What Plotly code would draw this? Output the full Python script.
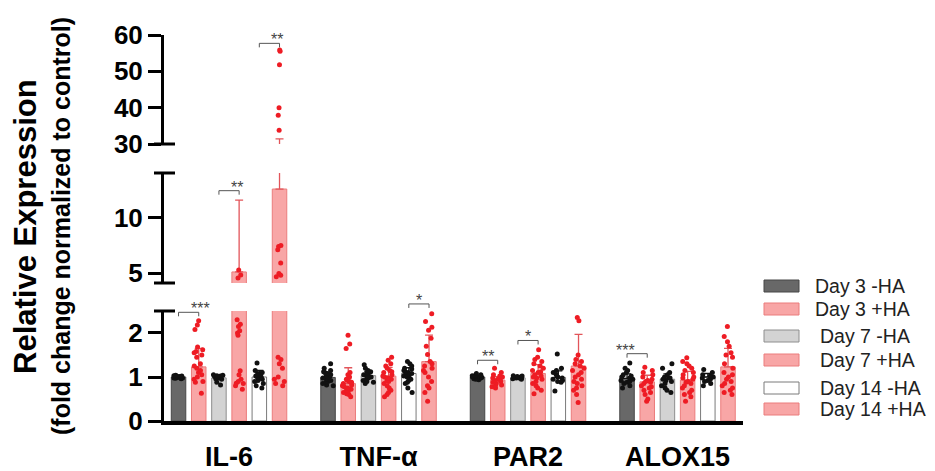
import plotly.graph_objects as go

genes = ["IL-6", "TNF-α", "PAR2", "ALOX15"]
groups = ["Day 3 -HA", "Day 3 +HA", "Day 7 -HA", "Day 7 +HA", "Day 14 -HA", "Day 14 +HA"]

# bar heights (mean) per group, in gene order IL-6, TNF-a, PAR2, ALOX15
mean_d3_minus = [1.00, 0.99, 1.00, 0.97]
mean_d3_plus = [1.23, 0.85, 0.93, 0.89]
mean_d7_minus = [0.98, 1.03, 0.98, 0.95]
mean_d7_plus = [5.10, 1.02, 1.08, 0.93]
mean_d14_minus = [1.00, 1.08, 0.99, 1.00]
mean_d14_plus = [12.6, 1.35, 1.25, 1.23]

# error bars (SD, drawn upward only)
sd_d3_minus = [0.03, 0.10, 0.04, 0.10]
sd_d3_plus = [0.42, 0.36, 0.08, 0.15]
sd_d7_minus = [0.05, 0.10, 0.03, 0.12]
sd_d7_plus = [6.50, 0.20, 0.20, 0.20]
sd_d14_minus = [0.15, 0.13, 0.15, 0.08]
sd_d14_plus = [18.8, 0.60, 0.72, 0.42]

# individual points per group, one list per gene
pts_d3_minus = [
    [1.02, 0.98, 1.00, 1.01, 0.99, 1.03, 0.97, 1.00, 1.02, 0.98, 1.01, 0.99, 1.00, 0.96, 1.04],
    [1.30, 1.20, 1.15, 1.10, 1.08, 1.05, 1.02, 1.00, 0.98, 0.95, 0.92, 0.90, 0.88, 0.85, 0.82, 0.80, 1.12, 0.96],
    [1.08, 1.05, 1.03, 1.02, 1.00, 0.99, 0.98, 0.97, 0.95, 0.94, 1.01, 1.00, 0.96, 1.04],
    [1.32, 1.20, 1.15, 1.10, 1.05, 1.02, 1.00, 0.98, 0.95, 0.92, 0.90, 0.88, 0.85, 0.80, 0.75],
]
pts_d3_plus = [
    [2.28, 2.18, 2.08, 1.68, 1.62, 1.58, 1.55, 1.50, 1.45, 1.30, 1.25, 1.20, 1.15, 1.10, 1.05, 1.00, 0.95, 0.90, 0.88, 0.63],
    [1.95, 1.75, 1.65, 1.10, 1.05, 1.00, 0.95, 0.92, 0.90, 0.88, 0.85, 0.82, 0.80, 0.78, 0.75, 0.72, 0.70, 0.68, 0.65, 0.62, 0.60, 0.55],
    [1.20, 1.10, 1.05, 1.00, 0.98, 0.95, 0.92, 0.90, 0.88, 0.85, 0.82, 0.80, 0.78, 0.75, 0.95, 1.02],
    [1.22, 1.15, 1.10, 1.05, 1.00, 0.95, 0.92, 0.90, 0.88, 0.85, 0.80, 0.78, 0.75, 0.70, 0.65, 0.60, 0.50, 0.45],
]
pts_d7_minus = [
    [1.05, 1.02, 1.00, 0.98, 1.01, 0.99, 1.03, 0.97, 1.00, 0.95, 0.88, 1.04, 0.96, 0.82],
    [1.28, 1.20, 1.15, 1.10, 1.08, 1.05, 1.02, 1.00, 0.98, 0.95, 0.92, 0.90, 0.88, 0.85, 1.12, 1.00],
    [1.03, 1.02, 1.00, 0.99, 0.98, 0.97, 0.96, 0.95, 1.01, 0.98],
    [1.30, 1.20, 1.10, 1.05, 1.00, 0.98, 0.95, 0.92, 0.90, 0.85, 0.80, 0.75, 0.70, 0.65],
]
pts_d7_plus = [
    [5.27, 4.82, 4.55, 2.30, 2.20, 2.15, 2.05, 2.00, 1.95, 1.14, 1.05, 0.95, 0.90, 0.86, 0.85, 0.80, 0.72],
    [1.45, 1.38, 1.30, 1.25, 1.20, 1.15, 1.10, 1.05, 1.00, 0.98, 0.95, 0.90, 0.85, 0.80, 0.75, 0.70, 0.65, 0.60, 1.12, 1.02, 0.92, 0.55],
    [1.62, 1.45, 1.40, 1.35, 1.30, 1.25, 1.20, 1.15, 1.10, 1.05, 1.00, 0.98, 0.95, 0.90, 0.85, 0.80, 0.75, 0.70, 1.12, 1.02, 0.62],
    [1.44, 1.35, 1.30, 1.25, 1.20, 1.15, 1.10, 1.05, 1.00, 0.95, 0.90, 0.85, 0.80, 0.75, 0.70, 0.65, 0.60, 0.55, 0.98, 0.88, 0.45],
]
pts_d14_minus = [
    [1.32, 1.15, 1.10, 1.05, 1.02, 1.00, 0.98, 0.95, 0.92, 0.90, 0.85, 0.80, 0.75, 1.08, 1.00],
    [1.35, 1.30, 1.25, 1.20, 1.15, 1.12, 1.10, 1.08, 1.05, 1.02, 1.00, 0.98, 0.95, 0.92, 0.88, 0.85, 0.75, 1.18, 1.06, 0.65],
    [1.52, 1.20, 1.15, 1.10, 1.05, 1.00, 0.98, 0.95, 0.92, 0.90, 0.88, 0.68],
    [1.17, 1.10, 1.05, 1.02, 1.00, 0.98, 0.95, 0.92, 0.90, 0.85, 0.80],
]
pts_d14_plus = [
    [55.9, 55.5, 51.8, 40.0, 37.9, 33.8, 7.50, 7.40, 7.10, 5.90, 4.97, 4.80, 4.66,
     1.45, 1.40, 1.30, 1.20, 1.00, 0.95, 0.90, 0.85, 0.80],
    [2.44, 2.26, 2.13, 2.06, 1.88, 1.70, 1.51, 1.35, 1.30, 1.25, 1.20, 1.15, 1.10, 1.00, 0.90, 0.80, 0.75, 0.65, 0.45],
    [2.35, 2.28, 1.50, 1.40, 1.35, 1.30, 1.25, 1.20, 1.15, 1.10, 1.05, 1.00, 0.95, 0.90, 0.85, 0.80, 0.75, 0.70, 0.60, 0.42],
    [2.15, 1.92, 1.80, 1.70, 1.55, 1.50, 1.45, 1.30, 1.20, 1.10, 1.05, 1.00, 0.95, 0.90, 0.85, 0.80, 0.75, 0.70, 0.65, 0.60],
]

# broken y axis segments
seg_ranges = [[0, 2.5], [4.1, 14.05], [30, 60]]
seg_ticks = [[0, 1, 2], [5, 10], [30, 40, 50, 60]]

# significance brackets: (gene, bar a, bar b, segment, y value, label)
sig_gene = [0, 0, 0, 1, 2, 2, 3]
sig_bar_a = [0, 2, 4, 4, 0, 2, 0]
sig_bar_b = [1, 3, 5, 5, 1, 3, 1]
sig_seg = [0, 1, 2, 0, 0, 0, 0]
sig_y = [2.47, 12.45, 57.7, 2.66, 1.38, 1.83, 1.53]
sig_text = ["***", "**", "**", "*", "**", "*", "***"]

# ---------------- styling ----------------
means = [mean_d3_minus, mean_d3_plus, mean_d7_minus, mean_d7_plus, mean_d14_minus, mean_d14_plus]
sds = [sd_d3_minus, sd_d3_plus, sd_d7_minus, sd_d7_plus, sd_d14_minus, sd_d14_plus]
pts = [pts_d3_minus, pts_d3_plus, pts_d7_minus, pts_d7_plus, pts_d14_minus, pts_d14_plus]

PINK = "#f8a6a6"
PINK_EDGE = "#eb7c7c"
fills = ["#686868", PINK, "#d3d3d3", PINK, "#ffffff", PINK]
edges = ["#474747", PINK_EDGE, "#8e8e8e", PINK_EDGE, "#7a7a7a", PINK_EDGE]
errc = ["#111111", "#e2555a", "#111111", "#e2555a", "#111111", "#e2555a"]
dotc = ["#111111", "#ee1c24", "#111111", "#ee1c24", "#111111", "#ee1c24"]

# page body has an 8px margin: size the figure so it fits the 935x471 window
PAGE = 8
W, H = 935 - PAGE, 471 - PAGE
PLOT_L, PLOT_R, PLOT_T, PLOT_B = 164, 743, 35, 421  # window pixel box of the plot area
L, T = PLOT_L - PAGE, PLOT_T - PAGE
R, B = W - (PLOT_R - PAGE), H - (PLOT_B - PAGE)
PW, PH = PLOT_R - PLOT_L, PLOT_B - PLOT_T
seg_domains = [[0.0, 0.285], [0.3575, 0.6425], [0.7176, 1.0]]
x_range = [-0.435, 3.438]
step = 0.1351
offsets = [(k - 2.5) * step for k in range(6)]
bar_w = 0.097
FONT = "Arial, Liberation Sans, sans-serif"
axis_ids = ["y", "y2", "y3"]


def px_x(px):
    return (px - PLOT_L) / PW


def px_y(py):
    return (PLOT_B - py) / PH


def ypaper(seg, v):
    r0, r1 = seg_ranges[seg]
    d0, d1 = seg_domains[seg]
    return d0 + (v - r0) / (r1 - r0) * (d1 - d0)


def xpaper(v):
    return (v - x_range[0]) / (x_range[1] - x_range[0])


fig = go.Figure()
for s in range(3):
    for k in range(6):
        fig.add_trace(go.Bar(
            x=[i + offsets[k] for i in range(len(genes))], y=means[k], width=bar_w,
            xaxis="x", yaxis=axis_ids[s], name=groups[k], showlegend=False,
            marker=dict(color=fills[k], line=dict(color=edges[k], width=1)),
            error_y=dict(type="data", symmetric=False, array=sds[k],
                         arrayminus=[0] * len(genes), color=errc[k], thickness=1.3, width=4),
            hoverinfo="skip"))
    for k in range(6):
        xs, ys = [], []
        for i in range(len(genes)):
            for v in pts[k][i]:
                xs.append(i + offsets[k])
                ys.append(v)
        fig.add_trace(go.Box(
            x=xs, y=ys, width=bar_w, boxpoints="all", jitter=0.85, pointpos=0,
            fillcolor="rgba(0,0,0,0)", line=dict(width=0, color="rgba(0,0,0,0)"),
            marker=dict(color=dotc[k], size=5), xaxis="x", yaxis=axis_ids[s],
            name=groups[k], showlegend=False, hoverinfo="y"))

yax_common = dict(showline=True, linewidth=3, linecolor="black", ticks="outside",
                  ticklen=13, tickwidth=3, tickcolor="black", showgrid=False,
                  zeroline=False, anchor="x", automargin=False,
                  tickfont=dict(family=FONT, size=26, color="black", weight="bold"))
layout_axes = {}
for s in range(3):
    key = "yaxis" if s == 0 else "yaxis%d" % (s + 1)
    layout_axes[key] = dict(domain=seg_domains[s], range=seg_ranges[s], tickvals=seg_ticks[s], **yax_common)

fig.update_layout(
    width=W, height=H, margin=dict(l=L, r=R, t=T, b=B, autoexpand=False),
    paper_bgcolor="white", plot_bgcolor="white", barmode="overlay",
    xaxis=dict(range=x_range, tickvals=list(range(len(genes))), ticktext=genes,
               showline=True, linewidth=4, linecolor="black", ticks="", showgrid=False,
               zeroline=False, anchor="y", ticklabelstandoff=9, automargin=False,
               tickfont=dict(family=FONT, size=27, color="black", weight="bold")),
    **layout_axes)

shapes = []
annotations = []
# break end caps
for seg, v in [(0, 2.5), (1, 4.1), (1, 14.05), (2, 30)]:
    yy = ypaper(seg, v)
    shapes.append(dict(type="line", xref="paper", yref="paper", x0=-10 / PW, x1=11 / PW,
                       y0=yy, y1=yy, line=dict(color="black", width=3)))

# significance brackets
for g, a, b, s, v, t in zip(sig_gene, sig_bar_a, sig_bar_b, sig_seg, sig_y, sig_text):
    xa = xpaper(g + offsets[a])
    xb = xpaper(g + offsets[b])
    yy = ypaper(s, v)
    dy = 4 / PH
    shapes.append(dict(type="path", xref="paper", yref="paper",
                       path="M %f,%f L %f,%f L %f,%f L %f,%f" % (xa, yy - dy, xa, yy, xb, yy, xb, yy - dy),
                       line=dict(color="#555555", width=1)))
    annotations.append(dict(xref="paper", yref="paper", x=(xa + xb) / 2, y=yy, text=t,
                            showarrow=False, yanchor="bottom", yshift=-7,
                            font=dict(family=FONT, size=16, color="#444444")))

# legend
leg_y_top = [280, 303, 330, 354, 382, 403]
leg_text_x = [813, 813, 818, 818, 818, 818]
for k in range(6):
    y0 = px_y(leg_y_top[k] + 12)
    y1 = px_y(leg_y_top[k])
    shapes.append(dict(type="rect", xref="paper", yref="paper",
                       x0=px_x(764), x1=px_x(799), y0=y0, y1=y1,
                       fillcolor=fills[k], line=dict(color=edges[k], width=1)))
    annotations.append(dict(xref="paper", yref="paper", x=px_x(leg_text_x[k]),
                            y=(y0 + y1) / 2, text=groups[k], showarrow=False,
                            xanchor="left", yanchor="middle",
                            font=dict(family=FONT, size=19.5, color="#222222")))

# y title (two lines)
annotations.append(dict(xref="paper", yref="paper", x=px_x(25), y=px_y(227),
                        text="<b>Relative Expression</b>", textangle=-90, showarrow=False,
                        xanchor="center", yanchor="middle",
                        font=dict(family=FONT, size=31, color="black")))
annotations.append(dict(xref="paper", yref="paper", x=px_x(61), y=px_y(226),
                        text="<b>(fold change normalized to control)</b>", textangle=-90,
                        showarrow=False, xanchor="center", yanchor="middle",
                        font=dict(family=FONT, size=25, color="black")))

fig.update_layout(shapes=shapes, annotations=annotations)
fig.write_html("out.html")
